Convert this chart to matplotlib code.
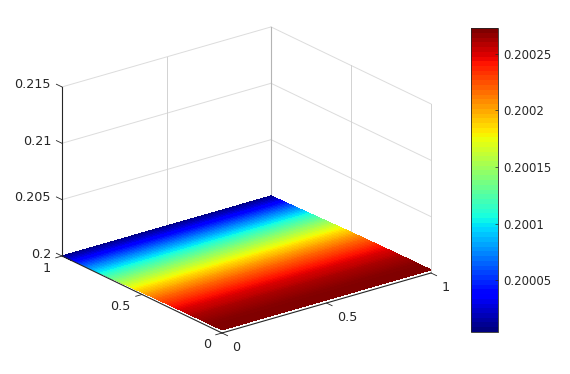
import numpy as np
import matplotlib
matplotlib.use('Agg')
import matplotlib.pyplot as plt
from matplotlib.cm import ScalarMappable
from matplotlib.colors import Normalize
from mpl_toolkits.mplot3d import proj3d

z_micro = [4, 10, 15, 20, 25, 31, 36, 41, 46, 51,
           56, 62, 67, 72, 77, 82, 87, 92, 97, 102,
           107, 112, 117, 122, 126, 131, 135, 140, 145, 149,
           153, 158, 162, 167, 171, 175, 179, 183, 187, 191,
           194, 198, 202, 206, 209, 212, 215, 219, 222, 225,
           228, 231, 233, 236, 239, 242, 244, 246, 248, 251,
           253, 255, 256, 258, 260, 262, 263, 265, 266, 267,
           268, 269, 270, 271, 271, 272, 272, 273, 273, 273, 273]
x_ticks = [0, 0.5, 1]
y_ticks = [0, 0.5, 1]
z_ticks = [0.2, 0.205, 0.21, 0.215]
z_labels = ['0.2', '0.205', '0.21', '0.215']
xy_labels = ['0', '0.5', '1']
cbar_ticks = [0.20005, 0.2001, 0.20015, 0.2002, 0.20025]
cbar_labels = ['0.20005', '0.2001', '0.20015', '0.2002', '0.20025']
c_min = 0.200004
c_max = 0.200273

W, H = 570, 374
TEXT = '#262626'
plt.rcParams['font.family'] = 'DejaVu Sans'
plt.rcParams['font.size'] = 9.2

fig = plt.figure(figsize=(W / 100, H / 100), dpi=100)
ax = fig.add_axes([0.2, 0.1, 300 / W, 300 / H], projection='3d', proj_type='ortho',
                  computed_zorder=False)
ax.view_init(elev=21.82, azim=-127.68)
ax.set_box_aspect((264.1, 261.7, 182.1))
ax.set_xlim(0, 1, view_margin=0)
ax.set_ylim(0, 1, view_margin=0)
ax.set_zlim(0.2, 0.215, view_margin=0)
ax.set_axis_off()


# pixel position (from the top left of the picture) of a data point
def to_pixels(x, y, z):
    xs, ys, _ = proj3d.proj_transform(x, y, z, ax.get_proj())
    px, py = ax.transData.transform((xs, ys))
    return px, H - py


# move the axes so the box corners land where they are in the reference
def place_axes():
    size = 300
    cx, cy = 285, 187
    for _ in range(3):
        ax.set_position([(cx - size / 2) / W, (cy - size / 2) / H, size / W, size / H])
        ax.apply_aspect()
        x0, y0 = to_pixels(0, 1, 0.2)
        x1, y1 = to_pixels(1, 0, 0.2)
        size = size * (431 - 62) / (x1 - x0)
        ax.set_position([(cx - size / 2) / W, (cy - size / 2) / H, size / W, size / H])
        ax.apply_aspect()
        x0, y0 = to_pixels(0, 1, 0.2)
        cx += 62 - x0
        cy += y0 - 256


place_axes()

# back walls
GRID = '#dcdcdc'
for z in z_ticks[1:]:
    ax.plot([0, 1], [1, 1], [z, z], color=GRID, lw=0.7, zorder=1)
    ax.plot([1, 1], [0, 1], [z, z], color=GRID, lw=0.7, zorder=1)
for t in x_ticks:
    if t < 1:
        ax.plot([t, t], [1, 1], [0.2, 0.215], color='#d2d2d2', lw=0.7, zorder=1)
for t in y_ticks:
    if t < 1:
        ax.plot([1, 1], [t, t], [0.2, 0.215], color='#d2d2d2', lw=0.7, zorder=1)
ax.plot([1, 1], [1, 1], [0.2, 0.215], color='#b4b4b4', lw=0.8, zorder=1)

# surface
norm = Normalize(c_min, c_max)
y_vals = np.linspace(1, 0, len(z_micro))
x_vals = np.array([0, 1])
X, Y = np.meshgrid(x_vals, y_vals)
Z = np.tile(0.2 + np.array(z_micro)[:, None] * 1e-6, (1, 2))
ax.plot_surface(X, Y, Z, cmap='jet', norm=norm, rstride=1, cstride=1, shade=False,
                linewidth=0, antialiased=False, zorder=2)

# axis lines and ticks
ax.plot([0, 1], [0, 0], [0.2, 0.2], color=TEXT, lw=0.8, zorder=3)
ax.plot([0, 0], [0, 1], [0.2, 0.2], color=TEXT, lw=0.8, zorder=3)
ax.plot([0, 0], [1, 1], [0.2, 0.215], color=TEXT, lw=0.8, zorder=3)
for t in x_ticks:
    ax.plot([t, t], [0, -0.035], [0.2, 0.2], color=TEXT, lw=0.6, zorder=3)
for t in y_ticks:
    ax.plot([0, -0.03], [t, t], [0.2, 0.2], color=TEXT, lw=0.6, zorder=3)
for z in z_ticks:
    ax.plot([0, 0], [1, 1.035], [z, z], color=TEXT, lw=0.6, zorder=3)


def tick_label(x, y, z, s, dx, dy, ha):
    xs, ys, _ = proj3d.proj_transform(x, y, z, ax.get_proj())
    ax.annotate(s, (xs, ys), xytext=(dx, dy), textcoords='offset pixels', ha=ha,
                va='center', color=TEXT, annotation_clip=False)


for z, s in zip(z_ticks, z_labels):
    tick_label(0, 1, z, s, -11, 2, 'right')
for t, s in zip(y_ticks, xy_labels):
    tick_label(0, t, 0.2, s, -11, -12, 'right')
for t, s in zip(x_ticks, xy_labels):
    tick_label(t, 0, 0.2, s, 10.5, -14.5, 'left')

# colorbar, with the 64 visible bands
cax = fig.add_axes([471 / W, 1 - 332 / H, 26.5 / W, 304 / H])
cb = fig.colorbar(ScalarMappable(norm=norm, cmap=plt.get_cmap('jet', 64)), cax=cax)
cb.set_ticks(cbar_ticks, labels=cbar_labels)
cb.ax.tick_params(direction='in', length=2.2, width=0.5, pad=4, colors=TEXT, labelsize=8.5)
cb.outline.set_linewidth(0.6)
cb.outline.set_edgecolor('#262626')

fig.savefig('out.png', dpi=100)
